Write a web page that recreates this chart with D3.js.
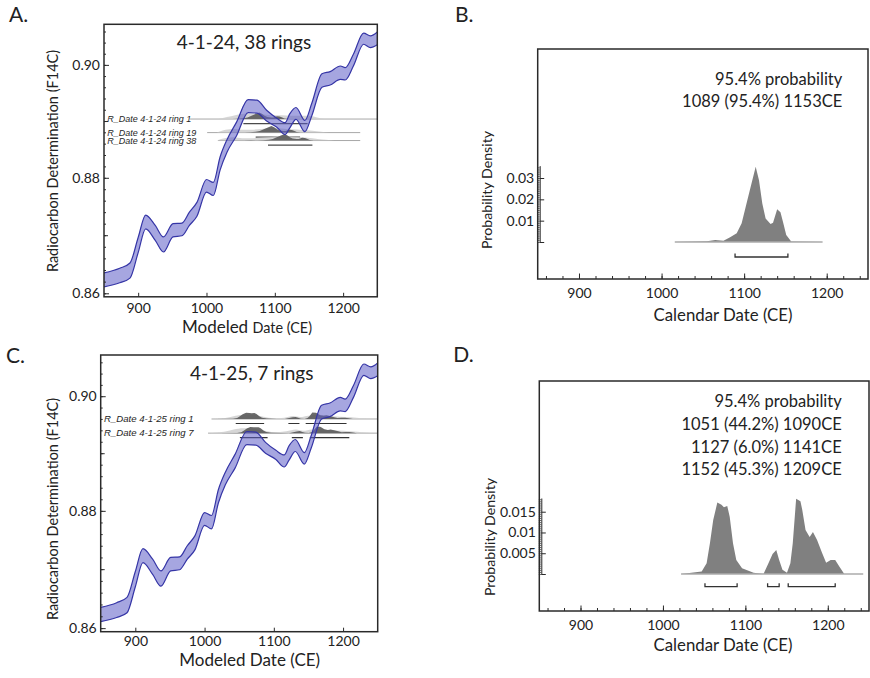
<!DOCTYPE html>
<html><head><meta charset="utf-8">
<script src="https://cdn.jsdelivr.net/npm/d3@7"></script>
<style>
body{margin:0;background:#fff;}
svg{display:block;}
text{font-family:Lato,"Open Sans",sans-serif;fill:#222;}
</style>
</head><body>
<svg id="chart" width="870" height="678"></svg>
<script>
// ---------- DATA ----------
// IntCal calibration band (F14C), upper and lower edges
const calYears = [850,873,888,900,911,925,937,951,964,975,986,1000,1010,1020,1030,1044,1061,1074,1088,1103,1115,1122,1131,1144,1154,1169,1181,1196,1203,1215,1230,1240,1250];
const calUpper = [0.8635,0.8643,0.8652,0.8696,0.8735,0.8717,0.8697,0.8720,0.8721,0.8740,0.8757,0.8797,0.8792,0.8837,0.8867,0.8898,0.8938,0.8937,0.8919,0.8905,0.8897,0.8913,0.8924,0.8901,0.8931,0.8984,0.8988,0.8998,0.8995,0.9019,0.9057,0.9052,0.9059];
const calLower = [0.8611,0.8618,0.8626,0.8670,0.8711,0.8691,0.8671,0.8697,0.8699,0.8717,0.8733,0.8775,0.8769,0.8814,0.8845,0.8874,0.8915,0.8914,0.8900,0.8889,0.8876,0.8888,0.8903,0.8881,0.8909,0.8960,0.8964,0.8974,0.8973,0.8998,0.9037,0.9031,0.9036];
const calXDomain = [850,1250];
const calYDomain = [0.8594,0.9073];
const calXTicks = [900,1000,1100,1200];
const calYTicks = [0.86,0.88,0.90];
const calYMidTicks = [0.87,0.89];

// Panel A rings (4-1-24)
const ringLabelsA = ["R_Date 4-1-24 ring 1","R_Date 4-1-24 ring 19","R_Date 4-1-24 ring 38"];
const ringF14CA = [0.89035,0.88795,0.88655];
const ringOffsetA = [37,19,0];
const ringLineA = [[976,1250],[1001,1225],[1017,1225]];
const ringRangesA = [[[1054,1148]],[[1072,1137]],[[1090,1155]]];
const lightA1 = [[1018,0],[1030,0.3],[1042,0.6],[1055,0.8],[1068,0.85],[1080,0.75],[1095,0.6],[1110,0.6],[1125,0.5],[1140,0.5],[1152,0.45],[1162,0.25],[1172,0]];
const lightA19 = [[1015,0],[1028,0.45],[1040,0.55],[1052,0.45],[1065,0.45],[1080,0.55],[1095,0.7],[1110,0.65],[1125,0.5],[1140,0.4],[1155,0.3],[1168,0.15],[1180,0]];
const lightA38 = [[1015,0],[1028,0.4],[1040,0.5],[1052,0.35],[1065,0.35],[1080,0.45],[1095,0.55],[1110,0.7],[1125,0.6],[1140,0.5],[1155,0.35],[1170,0.15],[1188,0]];

// Panel C rings (4-1-25)
const ringLabelsC = ["R_Date 4-1-25 ring 1","R_Date 4-1-25 ring 7"];
const ringF14CC = [0.89599,0.89351];
const ringOffsetC = [6,0];
const ringLineC = [[1010,1250],[1005,1250]];
const ringRangesC = [[[1045,1086],[1121,1137],[1146,1205]],[[1051,1091],[1126,1142],[1152,1209]]];
const lightC1 = [[1012,0],[1030,0.15],[1045,0.5],[1058,0.65],[1072,0.6],[1085,0.35],[1100,0.12],[1115,0.2],[1128,0.45],[1138,0.3],[1150,0.5],[1163,0.65],[1178,0.5],[1195,0.35],[1212,0.25],[1234,0]];
const lightC7 = [[1008,0],[1028,0.2],[1042,0.55],[1056,0.75],[1070,0.7],[1085,0.4],[1100,0.15],[1118,0.3],[1132,0.55],[1142,0.35],[1155,0.55],[1168,0.6],[1182,0.45],[1200,0.35],[1220,0.2],[1242,0]];

// Panel B posterior (4-1-24 outer ring)
const postBYears = [1016,1055,1065,1075,1083,1091,1097,1102,1108,1114,1118,1122,1126,1132,1135,1140,1144,1147,1151,1157,1195];
const postBDens  = [0,0.0003,0.0009,0.0006,0.0022,0.0041,0.0088,0.0166,0.026,0.0353,0.029,0.0181,0.011,0.0084,0.009,0.0153,0.0139,0.0095,0.0033,0.0002,0];
const rangesB = [[1089,1153]];
const textB = ["95.4% probability","1089 (95.4%) 1153CE"];
const densTicksB = [0.01,0.02,0.03];

// Panel D posterior (4-1-25 outer ring)
const postDYears = [1022,1047,1053,1057,1061,1066,1071,1074,1078,1081,1085,1089,1096,1110,1122,1128,1133,1137.5,1141,1145,1150.5,1154.6,1157.5,1161.6,1166.8,1169,1173,1178,1182,1187,1193,1198,1203.5,1209,1214,1220,1243];
const postDDens  = [0,0.0006,0.0026,0.0074,0.0130,0.0172,0.0167,0.0161,0.0164,0.0138,0.0074,0.0034,0.0014,0.0003,0,0.0026,0.0048,0.0058,0.0034,0.001,0.0003,0.0026,0.0074,0.0181,0.0175,0.0155,0.0106,0.0089,0.0101,0.0082,0.0051,0.0027,0.0034,0.0034,0.0018,0,0];
const rangesD = [[1051,1090],[1127,1141],[1152,1209]];
const textD = ["95.4% probability","1051 (44.2%) 1090CE","1127 (6.0%) 1141CE","1152 (45.3%) 1209CE"];
const densTicksD = [0.005,0.01,0.015];

// ---------- DRAW ----------
const svg = d3.select("#chart");
const fmtTick = d3.format("d");

function styleAxis(sel, size){
  sel.attr("font-family","Lato, 'Open Sans', sans-serif").attr("font-size",size).attr("color","#2a2a2a");
  sel.selectAll("text").style("fill","#222");
}

function calPanel(p, o){
  const x = d3.scaleLinear().domain(calXDomain).range([p.left,p.right]);
  const y = d3.scaleLog().domain(calYDomain).range([p.bottom,p.top]);
  const g = svg.append("g");
  const cid = "clip"+o.id;
  svg.append("clipPath").attr("id",cid).append("rect")
    .attr("x",p.left).attr("y",p.top).attr("width",p.right-p.left).attr("height",p.bottom-p.top);
  const gc = g.append("g").attr("clip-path",`url(#${cid})`);

  const hPx = 6.5;
  o.ringF14C.forEach((f,i)=>{
    const yb = y(f);
    gc.append("line").attr("x1",x(o.lines[i][0])).attr("x2",x(o.lines[i][1]))
      .attr("y1",yb).attr("y2",yb).attr("stroke","#a8a8a8").attr("stroke-width",1);
    gc.append("path").datum(o.light[i])
      .attr("d",d3.area().x(d=>x(d[0])).y0(yb).y1(d=>yb-d[1]*hPx).curve(d3.curveMonotoneX))
      .attr("fill","#cfcfcf").attr("fill-opacity",0.85);
    const mx = d3.max(o.postDens);
    const post = o.postYears.map((yr,k)=>[yr-o.offsets[i], o.postDens[k]]);
    gc.append("path").datum(post)
      .attr("d",d3.area().x(d=>x(d[0])).y0(yb).y1(d=>yb-d[1]/mx*hPx))
      .attr("fill","#5a5a5a").attr("fill-opacity",0.9);
    o.ranges[i].forEach(r=>{
      gc.append("line").attr("x1",x(r[0])).attr("x2",x(r[1]))
        .attr("y1",yb+4.5).attr("y2",yb+4.5).attr("stroke",o.rangeColor).attr("stroke-width",1.2);
    });
    g.append("text").attr("x",p.left+3.3).attr("y",yb).attr("dy","0.35em")
      .style("font-family","'Liberation Sans',Arial,sans-serif").style("font-style","italic")
      .style("font-size",o.labelSize+"px").style("fill","#1e1e1e").text(o.labels[i]);
  });

  const cal = calYears.map((yr,i)=>({yr, hi:calUpper[i], lo:calLower[i]}));
  gc.append("path").datum(cal)
    .attr("d",d3.area().x(d=>x(d.yr)).y0(d=>y(d.lo)).y1(d=>y(d.hi)).curve(d3.curveMonotoneX))
    .attr("fill","#5c5cc6").attr("fill-opacity",0.55);
  ["hi","lo"].forEach(k=>{
    gc.append("path").datum(cal)
      .attr("d",d3.line().x(d=>x(d.yr)).y(d=>y(d[k])).curve(d3.curveMonotoneX))
      .attr("fill","none").attr("stroke","#3535a6").attr("stroke-width",1.2);
  });

  const xa = g.append("g").attr("transform",`translate(0,${p.bottom})`)
    .call(d3.axisBottom(x).tickValues(calXTicks).tickSize(-4).tickPadding(o.xPad).tickFormat(fmtTick));
  xa.select(".domain").remove(); styleAxis(xa,14);
  const ya = g.append("g").attr("transform",`translate(${p.left},0)`)
    .call(d3.axisLeft(y).tickValues(calYTicks).tickSize(-5).tickPadding(4).tickFormat(d3.format(".2f")));
  ya.select(".domain").remove(); styleAxis(ya,14);
  const ym = g.append("g").attr("transform",`translate(${p.left},0)`)
    .call(d3.axisLeft(y).tickValues(calYMidTicks).tickSize(-4).tickFormat(()=>""));
  ym.select(".domain").remove(); styleAxis(ym,14);
  const yn = g.append("g").attr("transform",`translate(${p.left},0)`)
    .call(d3.axisLeft(y).tickValues(d3.range(0.860,0.9072,0.002)).tickSize(-2).tickFormat(()=>""));
  yn.select(".domain").remove(); styleAxis(yn,14);

  g.append("rect").attr("x",p.left).attr("y",p.top).attr("width",p.right-p.left).attr("height",p.bottom-p.top)
    .attr("fill","none").attr("stroke","#2a2a2a").attr("stroke-width",1.5);

  g.append("text").attr("x",o.titleX).attr("y",o.titleY).attr("text-anchor","middle")
    .style("font-size","19px").text(o.title);
  g.append("text").attr("transform",`translate(${o.yLabX},${o.yLabY}) rotate(-90)`).attr("text-anchor","middle")
    .style("font-size","14.5px").text("Radiocarbon Determination (F14C)");
  const xl = g.append("text").attr("x",o.xLabX).attr("y",o.xLabY).attr("text-anchor","middle").style("font-size","17px");
  xl.append("tspan").text("Modeled ");
  xl.append("tspan").style("font-size",o.dateSize+"px").text("Date (CE)");
  g.append("text").attr("x",o.letterX).attr("y",o.letterY).style("font-size","21px").text(o.letter);
}

function densPanel(p, o){
  const x = d3.scaleLinear().domain(calXDomain).range([p.left,p.right]);
  const y = d3.scaleLinear().domain([0,o.axisTop]).range([o.zeroY,o.zeroY-o.axisTop*o.unitPx]);
  const g = svg.append("g");
  const post = o.years.map((yr,i)=>[yr,o.dens[i]]);
  g.append("path").datum(post)
    .attr("d",d3.area().x(d=>x(d[0])).y0(y(0)).y1(d=>y(d[1])))
    .attr("fill","#808080");
  g.append("line").attr("x1",x(d3.min(o.years))).attr("x2",x(d3.max(o.years)))
    .attr("y1",y(0)).attr("y2",y(0)).attr("stroke","#ababab").attr("stroke-width",1.3);
  const yb = y(0)+o.brOff;
  o.ranges.forEach(r=>{
    g.append("path").attr("d",`M${x(r[0])},${yb-3.5}V${yb}H${x(r[1])}V${yb-3.5}`)
      .attr("fill","none").attr("stroke","#333").attr("stroke-width",1.3);
  });

  const ax = p.left+2;
  const yn = g.append("g").attr("transform",`translate(${ax},0)`)
    .call(d3.axisLeft(y).tickValues(d3.range(0,o.axisTop,o.minorStep)).tickSizeInner(2.5).tickSizeOuter(0).tickFormat(()=>""));
  styleAxis(yn,14);
  yn.selectAll(".tick line").attr("stroke-width",0.7);
  const yM = g.append("g").attr("transform",`translate(${ax},0)`)
    .call(d3.axisLeft(y).tickValues([0,...o.ticks]).tickSize(-4.5).tickPadding(5.5).tickFormat(d=>d===0?"":String(d)));
  yM.select(".domain").remove(); styleAxis(yM,14);

  const xn = g.append("g").attr("transform",`translate(0,${p.bottom})`)
    .call(d3.axisBottom(x).tickValues(d3.range(860,1250,20)).tickSize(-3).tickFormat(()=>""));
  xn.select(".domain").remove(); styleAxis(xn,14);
  const xM = g.append("g").attr("transform",`translate(0,${p.bottom})`)
    .call(d3.axisBottom(x).tickValues(calXTicks).tickSize(-5.5).tickPadding(9.3).tickFormat(fmtTick));
  xM.select(".domain").remove(); styleAxis(xM,14);

  g.append("rect").attr("x",p.left).attr("y",p.top).attr("width",p.right-p.left).attr("height",p.bottom-p.top)
    .attr("fill","none").attr("stroke","#2a2a2a").attr("stroke-width",1.5);

  o.text.forEach((t,i)=>{
    g.append("text").attr("x",o.textX).attr("y",o.textY+i*o.textStep).attr("text-anchor","end")
      .style("font-size","16.5px").text(t);
  });
  g.append("text").attr("transform",`translate(${o.yLabX},${o.yLabY}) rotate(-90)`).attr("text-anchor","middle")
    .style("font-size","14.2px").text("Probability Density");
  g.append("text").attr("x",o.xLabX).attr("y",o.xLabY).attr("text-anchor","middle")
    .style("font-size","16.8px").text("Calendar Date (CE)");
  g.append("text").attr("x",o.letterX).attr("y",o.letterY).style("font-size","21px").text(o.letter);
}

calPanel({left:104,right:377.3,top:24.3,bottom:296.8},{
  id:"A", ringF14C:ringF14CA, offsets:ringOffsetA, lines:ringLineA, ranges:ringRangesA,
  light:[lightA1,lightA19,lightA38], labels:ringLabelsA, labelSize:9, rangeColor:"#4a4a4a",
  postYears:postBYears, postDens:postBDens, xPad:6.5,
  title:"4-1-24, 38 rings", titleX:244, titleY:49.3,
  yLabX:58, yLabY:161, xLabX:247, xLabY:332.5, dateSize:14.4,
  letter:"A.", letterX:9, letterY:21.7
});
calPanel({left:100.7,right:377.7,top:355,bottom:631.7},{
  id:"C", ringF14C:ringF14CC, offsets:ringOffsetC, lines:ringLineC, ranges:ringRangesC,
  light:[lightC1,lightC7], labels:ringLabelsC, labelSize:9.6, rangeColor:"#333",
  postYears:postDYears, postDens:postDDens, xPad:4.5,
  title:"4-1-25, 7 rings", titleX:251.7, titleY:380,
  yLabX:58, yLabY:509, xLabX:249.7, xLabY:665.5, dateSize:17,
  letter:"C.", letterX:6, letterY:363.3
});
densPanel({left:537.7,right:868,top:49,bottom:279},{
  years:postBYears, dens:postBDens, ranges:rangesB, ticks:densTicksB,
  zeroY:242, unitPx:2133, axisTop:0.0358, minorStep:0.001, brOff:15,
  text:textB, textX:842.3, textY:85, textStep:21.7,
  yLabX:492, yLabY:190, xLabX:723, xLabY:320.5,
  letter:"B.", letterX:455, letterY:21.7
});
densPanel({left:539.3,right:869,top:381,bottom:611},{
  years:postDYears, dens:postDDens, ranges:rangesD, ticks:densTicksD,
  zeroY:574, unitPx:4153, axisTop:0.0183, minorStep:0.0005, brOff:12.7,
  text:textD, textX:841.7, textY:407.3, textStep:22.7,
  yLabX:495, yLabY:537, xLabX:723, xLabY:651,
  letter:"D.", letterX:453.3, letterY:361.7
});
</script>
</body></html>
